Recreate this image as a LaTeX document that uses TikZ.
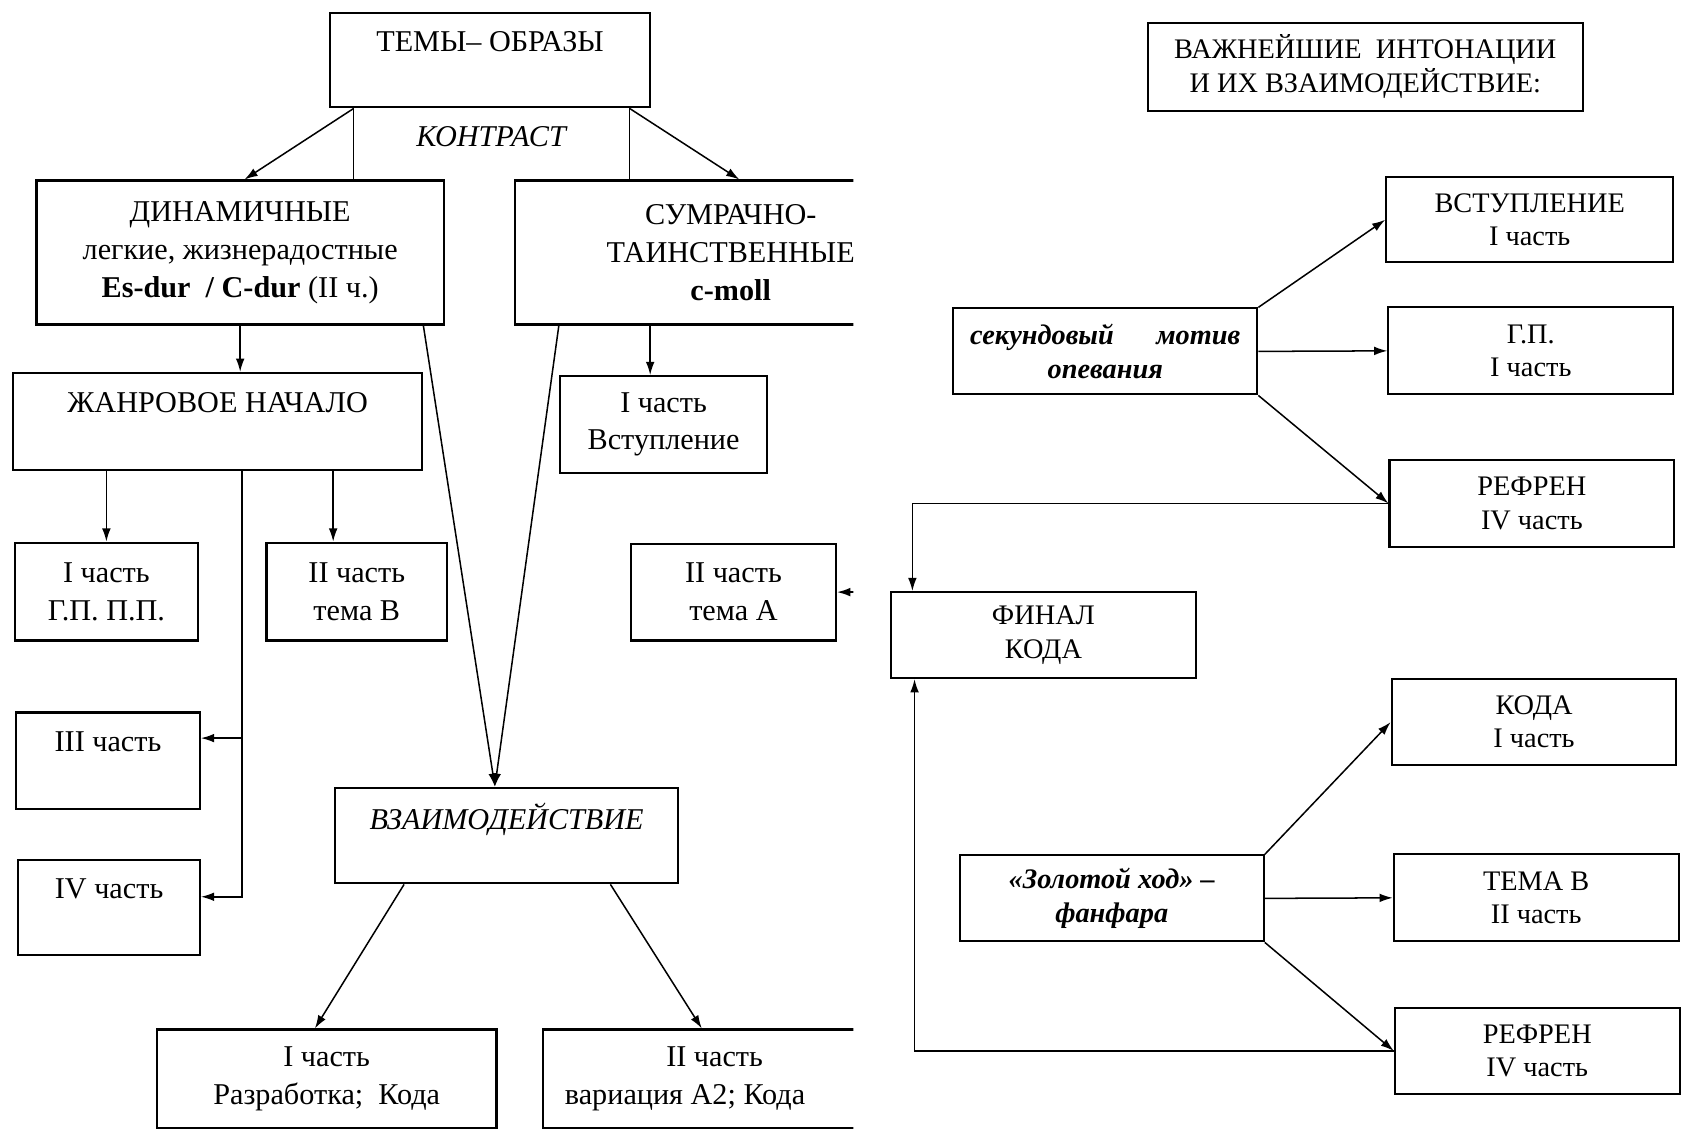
\documentclass[tikz,border=0pt]{standalone}
\usepackage{fontspec}
\setmainfont{Liberation Serif}
\usetikzlibrary{arrows.meta,calc,positioning}

\tikzset{
  box/.style={draw,line width=1.1pt,inner sep=0pt,align=center,font=\fontsize{16}{20}\selectfont},
  rbox/.style={box,font=\fontsize{15}{17.6}\selectfont},
  sz/.style 2 args={minimum width=#1*0.02cm,minimum height=#2*0.02cm},
  arr/.style={-{Latex[length=7pt,width=4.6pt]},line width=0.8pt},
  ln/.style={line width=0.8pt}
}

\begin{document}
\begin{tikzpicture}[x=0.02cm,y=-0.02cm]
\useasboundingbox (0,0) rectangle (1568,1053);
% left scheme, cut off at its right edge
\begin{scope}
\clip (0,0) rectangle (794,1053);
\node[box,sz={298}{88}] (tema) at (456,56) {ТЕМЫ– ОБРАЗЫ\\\mbox{}};
\node[font=\fontsize{16}{20}\selectfont\itshape] (kontrast) at (457,127) {КОНТРАСТ};
\node[box,sz={379}{134}] (din) at (223.5,235) {ДИНАМИЧНЫЕ\\легкие, жизнерадостные\\\textbf{Es-dur~~/ C-dur} (II ч.)};
\node[box,sz={402}{134}] (sum) at (680,235) {СУМРАЧНО-\\ТАИНСТВЕННЫЕ\\\textbf{c-moll}};
\node[box,sz={381}{90}] (zhanr) at (202.5,392) {ЖАНРОВОЕ НАЧАЛО\\\mbox{}};
\node[box,sz={193}{90}] (vstup) at (617.5,395) {I часть\\Вступление};
\node[box,sz={170}{91}] (gppp) at (99,550.5) {I часть\\Г.П. П.П.};
\node[box,sz={168}{91}] (chB) at (332,550.5) {II часть\\тема В};
\node[box,sz={191}{90}] (chA) at (682.5,551) {II часть\\тема А};
\node[box,sz={171}{90}] (part3) at (100.5,708) {III часть\\\mbox{}};
\node[box,sz={169}{89}] (part4) at (101.5,844.5) {IV часть\\\mbox{}};
\node[box,sz={319}{89},font=\fontsize{16}{20}\selectfont\itshape] (vzaim) at (471.5,777.5) {ВЗАИМОДЕЙСТВИЕ\\\mbox{}};
\node[box,sz={316}{92}] (razr) at (304,1004) {I часть\\Разработка;~~Кода};
\node[box,sz={320}{92}] (variac) at (665,1004) {II часть\\вариация А2; Кода\hspace*{1.1cm}};
% contrast
\coordinate (k1) at ($(tema.south west)+(23,0)$);
\coordinate (k2) at ($(tema.south east)+(-20,0)$);
\draw[ln] (k1) -- (k1 |- din.north);
\draw[ln] (k2) -- (k2 |- sum.north);
\draw[arr] (k1) -- ($(din.north)+(4,0)$);
\draw[arr] (k2) -- ($(sum.north)+(8,0)$);
\draw[arr] (din.south) -- (din.south |- zhanr.north);
\coordinate (s1) at ($(sum.south west)+(127,0)$);
\draw[arr] (s1) -- (s1 |- vstup.north);
% interaction
\coordinate (vz) at ($(vzaim.north)+(-11,0)$);
\draw[arr] ($(din.south east)+(-20,0)$) -- (vz);
\draw[arr] ($(sum.south west)+(42,0)$) -- (vz);
\draw[arr] ($(vzaim.south west)+(65,0)$) -- ($(razr.north west)+(148,0)$);
\draw[arr] ($(vzaim.south west)+(257,0)$) -- ($(variac.north west)+(149,0)$);
% genre branches
\draw[arr] (gppp.north |- zhanr.south) -- (gppp.north);
\coordinate (z2) at ($(chB.north west)+(63,0)$);
\draw[arr] (z2 |- zhanr.south) -- (z2);
\coordinate (z3) at ($(zhanr.south west)+(214,0)$);
\draw[arr] (z3) |- ($(part3.north east)!0.27!(part3.south east)$);
\draw[arr] (z3) |- ($(part4.north east)!0.39!(part4.south east)$);
\coordinate (cutA) at ($(chA.east)+(25,0)$);
\draw[arr] (cutA) -- (chA.east);
\end{scope}
% right scheme
\node[rbox,sz={405}{82}] (vazh) at (1270.5,62) {ВАЖНЕЙШИЕ~~ИНТОНАЦИИ\\И ИХ ВЗАИМОДЕЙСТВИЕ:};
\node[rbox,sz={267}{79}] (vst) at (1423.5,204.5) {ВСТУПЛЕНИЕ\\I часть};
\node[rbox,sz={283}{80},font=\fontsize{15}{17.6}\selectfont\bfseries\itshape] (sek) at (1028.5,327) {секундовый\hspace{1.5em}мотив\\опевания};
\node[rbox,sz={265}{81}] (gp) at (1424.5,326.5) {Г.П.\\I часть};
\node[rbox,sz={265}{81}] (ref1) at (1425.5,468.5) {РЕФРЕН\\IV часть};
\node[rbox,sz={284}{80}] (fin) at (971,591) {ФИНАЛ\\КОДА};
\node[rbox,sz={265}{80}] (koda) at (1427.5,672) {КОДА\\I часть};
\node[rbox,sz={283}{80},font=\fontsize{15}{17.6}\selectfont\bfseries\itshape] (zol) at (1034.5,836) {«Золотой ход» –\\фанфара};
\node[rbox,sz={265}{81}] (temB) at (1429.5,835.5) {ТЕМА В\\II часть};
\node[rbox,sz={265}{80}] (ref2) at (1430.5,978) {РЕФРЕН\\IV часть};
\draw[arr] (sek.north east) -- (vst.west);
\draw[arr] (sek.east) -- (gp.west);
\draw[arr] (sek.south east) -- (ref1.west);
\draw[arr] (ref1.west) -| ($(fin.north west)+(21,0)$);
\draw[arr] (zol.north east) -- (koda.west);
\draw[arr] (zol.east) -- (temB.west);
\draw[arr] (zol.south east) -- (ref2.west);
\draw[arr] (ref2.west) -| ($(fin.south west)+(23,0)$);
\end{tikzpicture}
\end{document}
